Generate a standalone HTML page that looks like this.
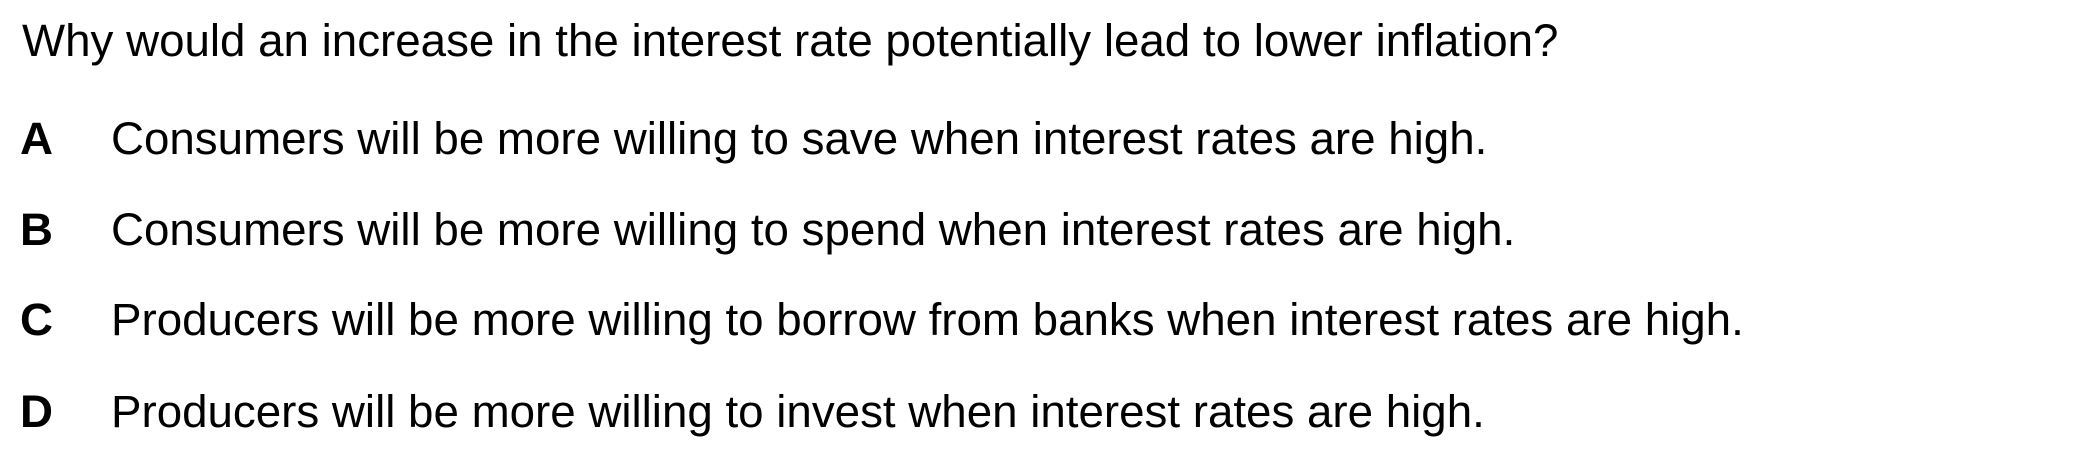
<!DOCTYPE html>
<html><head><meta charset="utf-8"><style>
html,body{margin:0;padding:0;background:#fff;}
body{width:2099px;height:459px;position:relative;overflow:hidden;font-family:"Liberation Sans",Arial,sans-serif;color:#000;}
.t{position:absolute;font-size:45.7px;line-height:1;white-space:nowrap;}
.l{font-weight:bold;}
</style></head><body>
<div class="t" style="left:22px;top:18px;">Why would an increase in the interest rate potentially lead to lower inflation?</div>
<div class="t l" style="left:20px;top:116px;">A</div>
<div class="t" style="left:111px;top:116px;">Consumers will be more willing to save when interest rates are high.</div>
<div class="t l" style="left:20px;top:207px;">B</div>
<div class="t" style="left:111px;top:207px;">Consumers will be more willing to spend when interest rates are high.</div>
<div class="t l" style="left:20px;top:297px;">C</div>
<div class="t" style="left:111px;top:297px;">Producers will be more willing to borrow from banks when interest rates are high.</div>
<div class="t l" style="left:20px;top:389px;">D</div>
<div class="t" style="left:111px;top:389px;">Producers will be more willing to invest when interest rates are high.</div>
</body></html>
